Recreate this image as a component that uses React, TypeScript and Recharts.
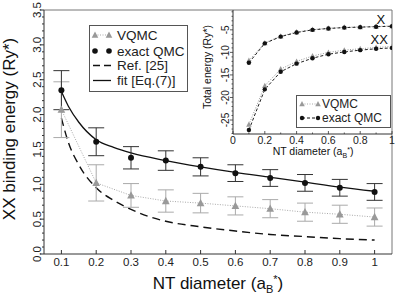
import React from 'react';
import { LineChart, Line, XAxis, YAxis, ErrorBar, ReferenceLine, ReferenceDot } from 'recharts';

// ---------- main plot data ----------
const XS = [0.1, 0.2, 0.3, 0.4, 0.5, 0.6, 0.7, 0.8, 0.9, 1.0];
const EXACT_BE = [2.35, 1.61, 1.38, 1.34, 1.25, 1.16, 1.09, 1.02, 0.95, 0.89];
const EXACT_ERR = [0.28, 0.2, 0.16, 0.14, 0.13, 0.12, 0.12, 0.12, 0.12, 0.12];
const VQMC_BE = [2.07, 1.02, 0.84, 0.76, 0.73, 0.69, 0.65, 0.6, 0.57, 0.53];
const VQMC_ERR = [0.4, 0.26, 0.17, 0.16, 0.14, 0.13, 0.13, 0.13, 0.13, 0.13];
const FIT_X = [0.1, 0.12, 0.15, 0.2, 0.25, 0.3, 0.4, 0.5, 0.6, 0.7, 0.8, 0.9, 1.0];
const FIT_Y = [2.33, 2.12, 1.89, 1.64, 1.53, 1.45, 1.34, 1.25, 1.17, 1.1, 1.03, 0.96, 0.9];
const REF_X = [0.1, 0.12, 0.15, 0.2, 0.25, 0.3, 0.35, 0.4, 0.5, 0.6, 0.7, 0.8, 0.9, 1.0];
const REF_Y = [1.95, 1.6, 1.28, 0.95, 0.77, 0.64, 0.54, 0.47, 0.39, 0.33, 0.28, 0.25, 0.22, 0.2];

const MAIN_X_TICKS = [0.1, 0.2, 0.3, 0.4, 0.5, 0.6, 0.7, 0.8, 0.9, 1.0];
const MAIN_X_LABELS = ['0.1', '0.2', '0.3', '0.4', '0.5', '0.6', '0.7', '0.8', '0.9', '1'];
const MAIN_Y_MAJOR = [0, 0.5, 1, 1.5, 2, 2.5, 3, 3.5];
const MAIN_Y_LABELS = ['0.0', '0.5', '1.0', '1.5', '2.0', '2.5', '3.0', '3.5'];
const MAIN_Y_ALL = [0, 0.1, 0.2, 0.3, 0.4, 0.5, 0.6, 0.7, 0.8, 0.9, 1, 1.1, 1.2, 1.3, 1.4, 1.5, 1.6, 1.7, 1.8, 1.9, 2, 2.1, 2.2, 2.3, 2.4, 2.5, 2.6, 2.7, 2.8, 2.9, 3, 3.1, 3.2, 3.3, 3.4, 3.5];

// ---------- inset data ----------
const X_EXACT = [-12.3, -8.0, -6.5, -5.6, -5.0, -4.7, -4.5, -4.4, -4.3, -4.2];
const X_VQMC = [-11.8, -7.9, -6.4, -5.5, -4.95, -4.65, -4.45, -4.35, -4.25, -4.15];
const XX_EXACT = [-27.2, -18.2, -14.3, -12.5, -11.3, -10.4, -9.9, -9.5, -9.2, -9.0];
const XX_VQMC = [-26.0, -17.4, -13.7, -12.0, -10.8, -10.0, -9.5, -9.2, -8.9, -8.7];

const INSET_X_ALL = [0, 0.1, 0.2, 0.3, 0.4, 0.5, 0.6, 0.7, 0.8, 0.9, 1];
const INSET_X_MAJOR = [0, 0.2, 0.4, 0.6, 0.8, 1];
const INSET_X_LABELS = ['0', '0.2', '0.4', '0.6', '0.8', '1'];
const INSET_Y_ALL = [-28, -27, -26, -25, -24, -23, -22, -21, -20, -19, -18, -17, -16, -15, -14, -13, -12, -11, -10, -9, -8, -7, -6, -5, -4, -3, -2, -1];
const INSET_Y_MAJOR = [-25, -20, -15, -10, -5];
const INSET_Y_LABELS = ['-25', '-20', '-15', '-10', '-5'];

const FONT = '"Liberation Sans", Arial, Helvetica, sans-serif';
const AX = '#333';

const rows = (xs: number[], ys: number[], errs?: number[]) =>
  xs.map((x, i) => ({ x, y: ys[i], err: errs ? errs[i] : 0 }));

const exactRows = rows(XS, EXACT_BE, EXACT_ERR);
const vqmcRows = rows(XS, VQMC_BE, VQMC_ERR);
const fitRows = rows(FIT_X, FIT_Y);
const refRows = rows(REF_X, REF_Y);

const triPath = (cx: number, cy: number, s: number) =>
  `M${cx},${cy - s * 0.6} L${cx + s * 0.55},${cy + s * 0.45} L${cx - s * 0.55},${cy + s * 0.45} Z`;

const makeTri = (size: number, color: string) => (p: any) => (
  <path key={`t${p.index}`} d={triPath(p.cx, p.cy, size)} fill={color} stroke="none" />
);
const makeDot = (r: number, color: string) => (p: any) => (
  <circle key={`d${p.index}`} cx={p.cx} cy={p.cy} r={r} fill={color} stroke="none" />
);

const MainYTick = (p: any) => {
  const v = p.payload.value;
  const idx = MAIN_Y_MAJOR.findIndex((m) => Math.abs(m - v) < 1e-6);
  const major = idx >= 0;
  return (
    <g>
      <line x1={p.x} x2={p.x - (major ? 4 : 2)} y1={p.y} y2={p.y} stroke={AX} strokeWidth={1} />
      {major && (
        <text
          transform={`translate(${p.x - 3},${p.y}) rotate(-90)`}
          textAnchor="middle"
          fontSize={11.5}
          fontFamily={FONT}
          fill="#222"
        >
          {MAIN_Y_LABELS[idx]}
        </text>
      )}
    </g>
  );
};

const MainXTick = (p: any) => {
  const v = p.payload.value;
  const idx = MAIN_X_TICKS.findIndex((m) => Math.abs(m - v) < 1e-6);
  return (
    <g>
      <line x1={p.x} x2={p.x} y1={p.y} y2={p.y - 4} stroke={AX} strokeWidth={1} />
      <text x={p.x} y={p.y + 12} textAnchor="middle" fontSize={11.5} fontFamily={FONT} fill="#222">
        {MAIN_X_LABELS[idx]}
      </text>
    </g>
  );
};

const InsetYTick = (p: any) => {
  const v = p.payload.value;
  const idx = INSET_Y_MAJOR.findIndex((m) => Math.abs(m - v) < 1e-6);
  const major = idx >= 0;
  return (
    <g>
      <line x1={p.x} x2={p.x - (major ? 3 : 1.5)} y1={p.y} y2={p.y} stroke={AX} strokeWidth={0.8} />
      {major && (
        <text
          transform={`translate(${p.x - 4},${p.y}) rotate(-90)`}
          textAnchor="middle"
          fontSize={10}
          fontFamily={FONT}
          fill="#222"
        >
          {INSET_Y_LABELS[idx]}
        </text>
      )}
    </g>
  );
};

const InsetXTick = (p: any) => {
  const v = p.payload.value;
  const idx = INSET_X_MAJOR.findIndex((m) => Math.abs(m - v) < 1e-6);
  const major = idx >= 0;
  return (
    <g>
      <line x1={p.x} x2={p.x} y1={p.y} y2={p.y - (major ? 3 : 1.5)} stroke={AX} strokeWidth={0.8} />
      {major && (
        <text x={p.x} y={p.y + 10} textAnchor="middle" fontSize={10.5} fontFamily={FONT} fill="#222">
          {INSET_X_LABELS[idx]}
        </text>
      )}
    </g>
  );
};

const MainLegend = () => (
  <svg width={100} height={68} style={{ position: 'absolute', left: 89, top: 25 }}>
    <rect x={0.5} y={0.5} width={98} height={66} fill="#fff" stroke="#555" strokeWidth={1} />
    <line x1={6} x2={20} y1={10} y2={10} stroke="#aaa" strokeDasharray="1 1.5" />
    <path d={triPath(6, 10, 6)} fill="#999" />
    <path d={triPath(20, 10, 6)} fill="#999" />
    <text x={28} y={14.5} fontSize={13.5} fontFamily={FONT} fill="#222">VQMC</text>
    <circle cx={6} cy={26} r={2.8} fill="#111" />
    <circle cx={20} cy={26} r={2.8} fill="#111" />
    <text x={28} y={30.5} fontSize={13.5} fontFamily={FONT} fill="#222">exact QMC</text>
    <line x1={4} x2={22} y1={40.5} y2={40.5} stroke="#111" strokeWidth={1.3} strokeDasharray="7 4" />
    <text x={28} y={45} fontSize={13.5} fontFamily={FONT} fill="#222">Ref. [25]</text>
    <line x1={4} x2={22} y1={55.5} y2={55.5} stroke="#111" strokeWidth={1.3} />
    <text x={28} y={60} fontSize={13.5} fontFamily={FONT} fill="#222">fit [Eq.(7)]</text>
  </svg>
);

const InsetLegend = () => (
  <svg width={95} height={33} style={{ position: 'absolute', left: 296, top: 95 }}>
    <rect x={0.5} y={0.5} width={94} height={32} fill="#fff" stroke="#555" strokeWidth={1} />
    <line x1={6} x2={22} y1={9} y2={9} stroke="#aaa" strokeDasharray="1 1.5" />
    <path d={triPath(6, 9, 5)} fill="#999" />
    <path d={triPath(22, 9, 5)} fill="#999" />
    <text x={26} y={13} fontSize={12} fontFamily={FONT} fill="#222">VQMC</text>
    <line x1={6} x2={22} y1={23} y2={23} stroke="#111" strokeDasharray="3 2" />
    <circle cx={6} cy={23} r={2.2} fill="#111" />
    <circle cx={22} cy={23} r={2.2} fill="#111" />
    <text x={26} y={27} fontSize={12} fontFamily={FONT} fill="#222">exact QMC</text>
  </svg>
);

const xExactRows = rows(XS, X_EXACT);
const xVqmcRows = rows(XS, X_VQMC);
const xxExactRows = rows(XS, XX_EXACT);
const xxVqmcRows = rows(XS, XX_VQMC);

export default function App() {
  return (
    <div style={{ position: 'absolute', left: 0, top: 0, width: 395, height: 298, background: '#fff', fontFamily: FONT }}>
      <LineChart width={395} height={298} margin={{ top: 10, right: 3, left: 14, bottom: 0 }}>
        <XAxis
          dataKey="x"
          type="number"
          domain={[0.05, 1.05]}
          ticks={MAIN_X_TICKS}
          interval={0}
          tickSize={0}
          tickMargin={0}
          tick={<MainXTick />}
          height={44}
          axisLine={{ stroke: AX, strokeWidth: 1 }}
          allowDataOverflow
        />
        <YAxis
          type="number"
          domain={[0, 3.5]}
          ticks={MAIN_Y_ALL}
          interval={0}
          tickSize={0}
          tickMargin={0}
          tick={<MainYTick />}
          width={30}
          axisLine={{ stroke: AX, strokeWidth: 1 }}
          allowDataOverflow
        />
        <ReferenceLine y={3.5} stroke="#777" strokeWidth={1} />
        <ReferenceLine x={1.05} stroke="#777" strokeWidth={1} />
        <Line data={refRows} dataKey="y" type="monotone" stroke="#111" strokeWidth={1.4} strokeDasharray="8 5" dot={false} isAnimationActive={false} />
        <Line data={fitRows} dataKey="y" type="monotone" stroke="#111" strokeWidth={1.3} dot={false} isAnimationActive={false} />
        <Line data={vqmcRows} dataKey="y" type="linear" stroke="#aaa" strokeWidth={1} strokeDasharray="1 1.5" dot={makeTri(7, '#999')} isAnimationActive={false}>
          <ErrorBar dataKey="err" width={8} stroke="#aaa" strokeWidth={1} direction="y" />
        </Line>
        <Line data={exactRows} dataKey="y" type="linear" stroke="none" dot={makeDot(3, '#111')} isAnimationActive={false}>
          <ErrorBar dataKey="err" width={8} stroke="#333" strokeWidth={1} direction="y" />
        </Line>
      </LineChart>

      <svg width={395} height={298} style={{ position: 'absolute', left: 0, top: 0, pointerEvents: 'none' }}>
        <text transform="translate(15,129) rotate(-90)" textAnchor="middle" fontSize={17} fontFamily={FONT} fill="#111">
          XX binding energy (Ry*)
        </text>
        <text x={218} y={289} textAnchor="middle" fontSize={17} fontFamily={FONT} fill="#111">
          NT diameter (a<tspan fontSize={11} dy={4}>B</tspan><tspan dy={-10} fontSize={11}>*</tspan><tspan dy={6}>)</tspan>
        </text>
        <text transform="translate(211,67) rotate(-90)" textAnchor="middle" fontSize={10.5} fontFamily={FONT} fill="#111">
          Total energy (Ry*)
        </text>
        <text x={313} y={155} textAnchor="middle" fontSize={10.5} fontFamily={FONT} fill="#111">
          NT diameter (a<tspan fontSize={7} dy={2.5}>B</tspan><tspan dy={-6} fontSize={7}>*</tspan><tspan dy={3.5}>)</tspan>
        </text>
      </svg>

      <MainLegend />

      <div style={{ position: 'absolute', left: 200, top: 10 }}>
        <LineChart width={195} height={152} margin={{ top: 0, right: 3, left: 9, bottom: 0 }}>
          <XAxis
            dataKey="x"
            type="number"
            domain={[0, 1]}
            ticks={INSET_X_ALL}
            interval={0}
            tickSize={0}
            tickMargin={0}
            tick={<InsetXTick />}
            height={28}
            axisLine={{ stroke: AX, strokeWidth: 1 }}
            allowDataOverflow
          />
          <YAxis
            type="number"
            domain={[-28.1, -0.6]}
            ticks={INSET_Y_ALL}
            interval={0}
            tickSize={0}
            tickMargin={0}
            tick={<InsetYTick />}
            width={24}
            axisLine={{ stroke: AX, strokeWidth: 1 }}
            allowDataOverflow
          />
          <Line data={xVqmcRows} dataKey="y" type="linear" stroke="#999" strokeWidth={1} strokeDasharray="1 1.5" dot={makeTri(5, '#999')} isAnimationActive={false} />
          <Line data={xExactRows} dataKey="y" type="linear" stroke="#222" strokeWidth={1} strokeDasharray="3 2" dot={makeDot(2.2, '#111')} isAnimationActive={false} />
          <Line data={xxVqmcRows} dataKey="y" type="linear" stroke="#999" strokeWidth={1} strokeDasharray="1 1.5" dot={makeTri(5, '#999')} isAnimationActive={false} />
          <Line data={xxExactRows} dataKey="y" type="linear" stroke="#222" strokeWidth={1} strokeDasharray="3 2" dot={makeDot(2.2, '#111')} isAnimationActive={false} />
          <ReferenceDot x={0.93} y={-2.6} r={0} fill="none" stroke="none" label={{ value: 'X', position: 'center', fontSize: 13, fill: '#111', fontFamily: FONT }} />
          <ReferenceDot x={0.92} y={-7.2} r={0} fill="none" stroke="none" label={{ value: 'XX', position: 'center', fontSize: 13, fill: '#111', fontFamily: FONT }} />
        </LineChart>
      </div>

      <InsetLegend />
    </div>
  );
}
